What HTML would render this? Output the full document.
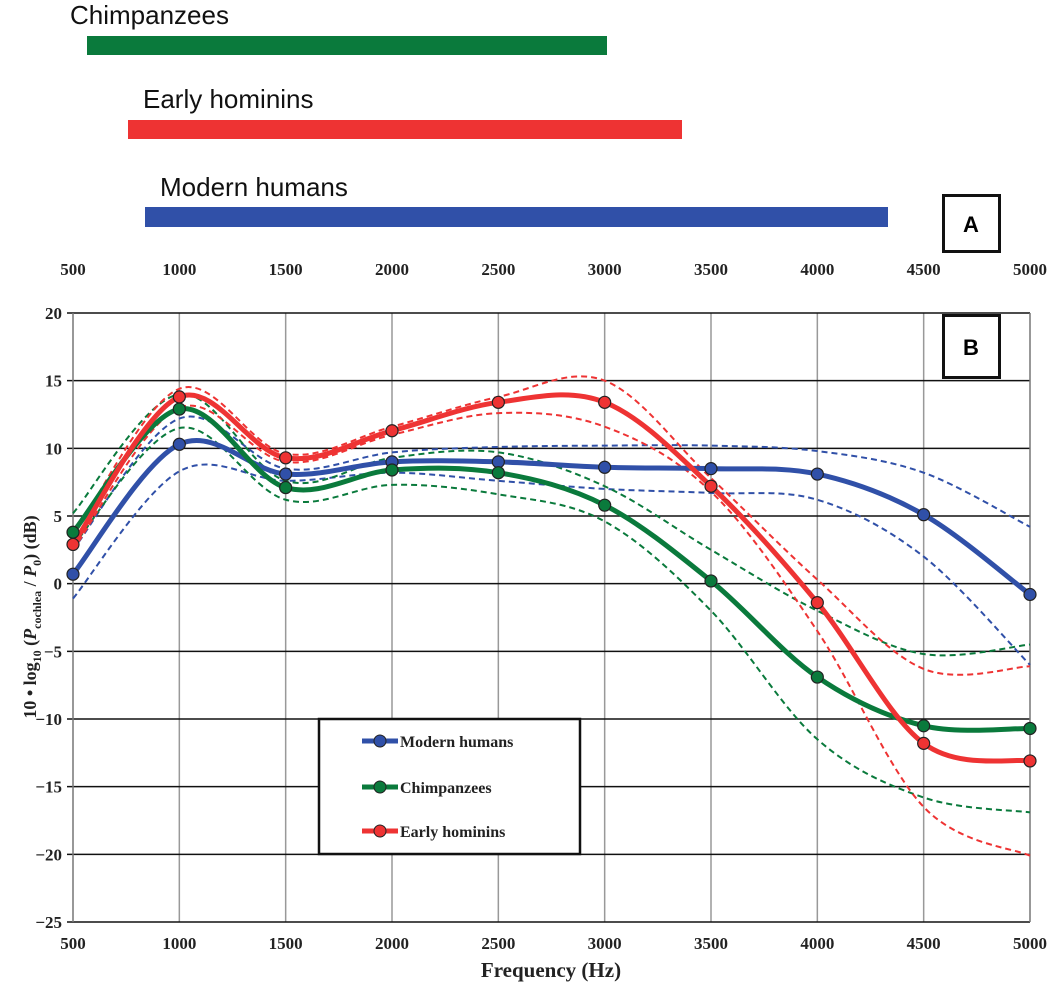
<!DOCTYPE html>
<html><head><meta charset="utf-8"><style>
body{margin:0;background:#fff;width:1050px;height:985px;overflow:hidden}
svg{display:block}
.t{font-family:"Liberation Serif",serif;font-weight:bold;font-size:17px;fill:#222}
.s{font-family:"Liberation Sans",sans-serif;font-size:26px;fill:#111}
</style></head><body>
<svg id="c" width="1050" height="985" xmlns="http://www.w3.org/2000/svg">
<text class="s" x="70" y="24">Chimpanzees</text>
<rect x="87" y="36" width="520" height="19" fill="#0a7a3c"/>
<text class="s" x="143" y="108">Early hominins</text>
<rect x="128" y="120" width="554" height="19" fill="#ee3333"/>
<text class="s" x="160" y="196">Modern humans</text>
<rect x="145" y="207" width="743" height="20" fill="#3050a8"/>
<rect x="943.5" y="195.5" width="56" height="56" fill="none" stroke="#111" stroke-width="3"/>
<text x="971" y="232" text-anchor="middle" style="font-family:'Liberation Sans',sans-serif;font-weight:bold;font-size:22px">A</text>
<g id="grid"></g>
<g id="curves"></g>
<rect x="943.5" y="315.5" width="56" height="62" fill="#fff" stroke="#111" stroke-width="3"/>
<text x="971" y="355" text-anchor="middle" style="font-family:'Liberation Sans',sans-serif;font-weight:bold;font-size:22px">B</text>
<rect x="319" y="719" width="261" height="135" fill="#fff" stroke="#111" stroke-width="2.5"/>
<g class="t" style="font-size:16px">
<line x1="362" y1="741" x2="398" y2="741" stroke="#3050a8" stroke-width="5"/><circle cx="380" cy="741" r="6" fill="#3050a8" stroke="#222"/>
<text x="400" y="747">Modern humans</text>
<line x1="362" y1="787" x2="398" y2="787" stroke="#0a7a3c" stroke-width="5"/><circle cx="380" cy="787" r="6" fill="#0a7a3c" stroke="#222"/>
<text x="400" y="793">Chimpanzees</text>
<line x1="362" y1="831" x2="398" y2="831" stroke="#ee3333" stroke-width="5"/><circle cx="380" cy="831" r="6" fill="#ee3333" stroke="#222"/>
<text x="400" y="837">Early hominins</text>
</g>
<text class="t" x="551" y="977" text-anchor="middle" style="font-size:21px">Frequency (Hz)</text>
<text class="t" transform="translate(36,617) rotate(-90)" text-anchor="middle" style="font-size:18px">10 • log<tspan font-size="12" dy="5">10</tspan><tspan dy="-5"> (</tspan><tspan font-style="italic">P</tspan><tspan font-size="12" dy="5">cochlea</tspan><tspan dy="-5"> / </tspan><tspan font-style="italic">P</tspan><tspan font-size="12" dy="5">0</tspan><tspan dy="-5">) (dB)</tspan></text>
</svg>
<script>
const NS="http://www.w3.org/2000/svg";
const X=f=>73+(f-500)*(957/4500), Y=v=>313+(20-v)*(609/45);
const g=document.getElementById('grid'), cv=document.getElementById('curves');
function el(p,t,a,txt){const e=document.createElementNS(NS,t);for(const k in a)e.setAttribute(k,a[k]);if(txt!=null)e.textContent=txt;p.appendChild(e);return e;}
for(let f=500;f<=5000;f+=500){const x=X(f);
 if(f>500&&f<5000) el(g,'line',{x1:x,y1:313,x2:x,y2:922,stroke:'#999','stroke-width':1.5});
 el(g,'text',{x:x,y:275,'text-anchor':'middle',class:'t'},f);
 el(g,'text',{x:x,y:949,'text-anchor':'middle',class:'t'},f);}
for(let v=20;v>=-25;v-=5){const y=Y(v);
 el(g,'line',{x1:67,y1:y,x2:1030,y2:y,stroke:'#111','stroke-width':1.5});
 el(g,'text',{x:62,y:y+6,'text-anchor':'end',class:'t'},v<0?'\u221225'.replace('25',-v):v);}
el(g,'line',{x1:73,y1:313,x2:73,y2:922,stroke:'#777','stroke-width':1.5});
el(g,'line',{x1:1030,y1:313,x2:1030,y2:922,stroke:'#777','stroke-width':1.5});
function path(vals){const p=vals.map((v,i)=>[X(500+500*i),Y(v)]);let d=`M${p[0][0]},${p[0][1]}`;
 for(let i=0;i<p.length-1;i++){const p0=p[i-1]||p[i],p1=p[i],p2=p[i+1],p3=p[i+2]||p2;
  d+=` C${p1[0]+(p2[0]-p0[0])/6},${p1[1]+(p2[1]-p0[1])/6} ${p2[0]-(p3[0]-p1[0])/6},${p2[1]-(p3[1]-p1[1])/6} ${p2[0]},${p2[1]}`;}return d;}
const B='#3050a8',G='#0a7a3c',R='#ee3333';
const dashed=[[B,[2.5,12.2,8.5,9.7,10.1,10.2,10.2,9.8,8.2,4.2]],[B,[-1.1,8.3,7.6,8.2,7.6,7.0,6.7,6.2,2.0,-6.0]],
[G,[5.2,14.0,7.6,9.3,9.7,7.2,2.5,-2.0,-5.2,-4.5]],[G,[2.8,11.5,6.2,7.3,6.6,4.6,-2.0,-11.5,-15.8,-16.9]],
[R,[3.5,14.4,9.6,11.6,13.8,15.0,7.8,0.3,-6.3,-6.1]],[R,[2.5,13.0,9.0,11.0,12.6,11.6,6.8,-3.5,-16.5,-20.1]]];
dashed.forEach(([c,v])=>el(cv,'path',{d:path(v),fill:'none',stroke:c,'stroke-width':2,'stroke-dasharray':'6 4'}));
const main=[[B,[0.7,10.3,8.1,9.0,9.0,8.6,8.5,8.1,5.1,-0.8]],[G,[3.8,12.9,7.1,8.4,8.2,5.8,0.2,-6.9,-10.5,-10.7]],[R,[2.9,13.8,9.3,11.3,13.4,13.4,7.2,-1.4,-11.8,-13.1]]];
main.forEach(([c,v])=>el(cv,'path',{d:path(v),fill:'none',stroke:c,'stroke-width':5}));
main.forEach(([c,v])=>v.forEach((y,i)=>el(cv,'circle',{cx:X(500+500*i),cy:Y(y),r:6,fill:c,stroke:'#222','stroke-width':1.2})));
</script>
</body></html>
